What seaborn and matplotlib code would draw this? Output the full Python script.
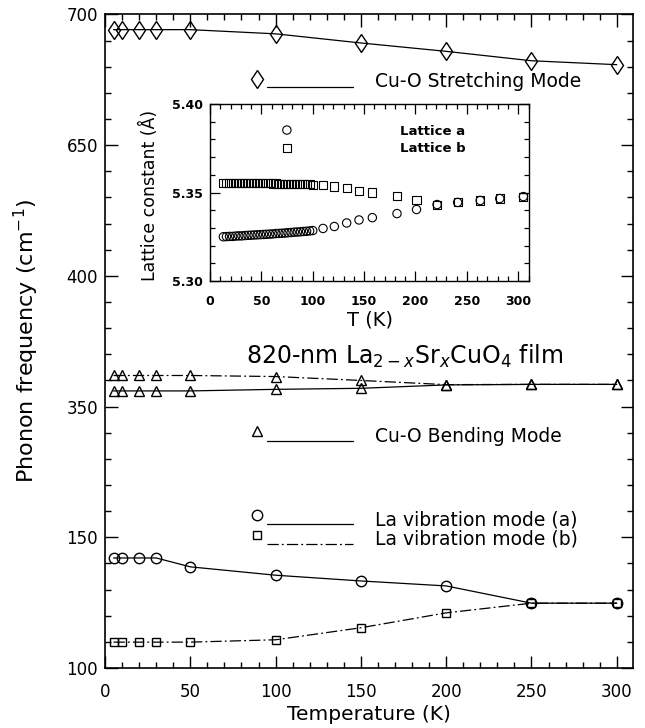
import numpy as np
import matplotlib
matplotlib.use("Agg")
import matplotlib.pyplot as plt
from matplotlib.ticker import FixedLocator, MultipleLocator, FormatStrFormatter
import seaborn as sns

# ---- phonon frequencies vs temperature (cm^-1) ----
temperature = [5, 10, 20, 30, 50, 100, 150, 200, 250, 300]
stretching = [694.2, 694.2, 694.2, 694.2, 694.2, 692.6, 689.1, 685.9, 682.3, 680.8]
bending_upper = [361.9, 361.9, 361.9, 361.9, 361.9, 361.5, 360.0, 358.4, 358.5, 358.5]
bending_lower = [356.0, 356.0, 356.0, 356.0, 356.0, 356.6, 357.0, 358.3, 358.5, 358.5]
la_mode_a = [142.1, 142.1, 142.1, 142.1, 138.7, 135.5, 133.3, 131.4, 124.8, 124.8]
la_mode_b = [109.9, 109.9, 109.9, 109.9, 109.9, 110.8, 115.4, 121.1, 124.8, 124.8]

# ---- lattice constants vs temperature (Angstrom) ----
lattice_T = [13, 16, 19, 22, 25, 28, 31, 34, 37, 40, 43, 46, 49, 52, 55,
             58, 61, 64, 67, 70, 73, 76, 79, 82, 85, 88, 91, 94, 97, 100,
             110, 121, 133, 145, 158, 182, 201, 221, 241, 263, 282, 305]
lattice_a = [5.3250, 5.3251, 5.3252, 5.3252, 5.3254, 5.3255, 5.3255, 5.3257,
             5.3258, 5.3259, 5.3260, 5.3261, 5.3262, 5.3263, 5.3264, 5.3265,
             5.3266, 5.3268, 5.3269, 5.3270, 5.3271, 5.3273, 5.3274, 5.3276,
             5.3277, 5.3278, 5.3280, 5.3281, 5.3283, 5.3285,
             5.3297, 5.3308, 5.3328, 5.3345, 5.3358, 5.3381, 5.3404,
             5.3432, 5.3444, 5.3455, 5.3466, 5.3477]
lattice_b = [5.3556, 5.3556, 5.3556, 5.3555, 5.3555, 5.3555, 5.3555, 5.3554,
             5.3554, 5.3554, 5.3553, 5.3553, 5.3553, 5.3552, 5.3552, 5.3552,
             5.3551, 5.3551, 5.3550, 5.3550, 5.3550, 5.3549, 5.3549, 5.3548,
             5.3548, 5.3547, 5.3547, 5.3546, 5.3546, 5.3545,
             5.3540, 5.3534, 5.3523, 5.3511, 5.3500, 5.3478, 5.3459,
             5.3432, 5.3444, 5.3455, 5.3466, 5.3477]

# broken frequency axis: each labelled value sits one equal step apart
y_breaks = [100, 150, 350, 400, 650, 700]
x_major = [0, 50, 100, 150, 200, 250, 300]

sns.set_style("ticks")
plt.rcParams["font.family"] = ["DejaVu Sans"]
plt.rcParams["axes.linewidth"] = 1.2
plt.rcParams["text.color"] = "black"
plt.rcParams["axes.labelcolor"] = "black"
plt.rcParams["xtick.color"] = "black"
plt.rcParams["ytick.color"] = "black"
plt.rcParams["axes.edgecolor"] = "black"

slots = np.arange(len(y_breaks), dtype=float)


def to_slot(v):
    return np.interp(v, y_breaks, slots)


def from_slot(s):
    return np.interp(s, slots, y_breaks)


fig = plt.figure(figsize=(6.45, 7.28), dpi=100)
ax = fig.add_axes([0.1628, 0.0824, 0.8186, 0.8977])
ax.set_yscale("function", functions=(to_slot, from_slot))

dash_dot = (0, (9, 2.5, 1.5, 2.5))
line_kw = dict(color="black", linewidth=0.9, markerfacecolor="none",
               markeredgecolor="black", markeredgewidth=1.0,
               legend=False, estimator=None, ax=ax)

sns.lineplot(x=temperature, y=stretching, marker="d", markersize=9.5,
             linestyle="-", **line_kw)
sns.lineplot(x=temperature, y=bending_upper, marker="^", markersize=6.8,
             linestyle=dash_dot, **line_kw)
sns.lineplot(x=temperature, y=bending_lower, marker="^", markersize=6.8,
             linestyle="-", **line_kw)
sns.lineplot(x=temperature, y=la_mode_a, marker="o", markersize=7.5,
             linestyle="-", **line_kw)
sns.lineplot(x=temperature, y=la_mode_b, marker="s", markersize=6.2,
             linestyle=dash_dot, **line_kw)

ax.set_xlim(0, 309.5)
ax.set_ylim(100, 700)
ax.set_yticks(y_breaks)
ax.yaxis.set_minor_locator(FixedLocator(from_slot(np.arange(0, 5.01, 0.2))))
ax.set_xticks(x_major)
ax.xaxis.set_minor_locator(MultipleLocator(10))
ax.tick_params(which="both", direction="in", top=True, right=True,
               width=1.0, colors="black")
ax.tick_params(which="major", length=9, labelsize=12)
ax.tick_params(which="minor", length=4.5)
ax.tick_params(axis="x", which="major", pad=11)
ax.tick_params(axis="y", which="major", pad=5)
for sp in ax.spines.values():
    sp.set_color("black")

ax.set_xlabel("Temperature (K)", fontsize=14.5, color="black")
ax.xaxis.set_label_coords(0.5, -0.056)
ax.set_ylabel("Phonon frequency (cm$^{-1}$)", fontsize=16, color="black")
ax.yaxis.set_label_coords(-0.122, 0.5)

# legend entries: symbol, short line, description
tr = ax.transAxes
legend_rows = [
    ("d", 9.5, "-", 0.902, 0.889, 0.897, "Cu-O Stretching Mode"),
    ("^", 6.8, "-", 0.3625, 0.347, 0.355, "Cu-O Bending Mode"),
    ("o", 7.5, "-", 0.2335, 0.221, 0.227, "La vibration mode (a)"),
    ("s", 6.2, dash_dot, 0.203, 0.190, 0.197, "La vibration mode (b)"),
]
for mk, ms, ls, ym, yl, yt, label in legend_rows:
    ax.plot([0.287], [ym], marker=mk, markersize=ms, markerfacecolor="none",
            markeredgecolor="black", markeredgewidth=1.0, transform=tr,
            clip_on=False, linestyle="none")
    ax.plot([0.306, 0.469], [yl, yl], color="black", linewidth=0.9,
            linestyle=ls, transform=tr)
    ax.text(0.512, yt, label, transform=tr, fontsize=13.5, va="center",
            ha="left", color="black")

ax.text(0.267, 0.477, "820-nm La$_{2-x}$Sr$_x$CuO$_4$ film", transform=tr,
        fontsize=17, va="center", ha="left", color="black")

# ---- inset: lattice constants ----
ins = fig.add_axes([0.3256, 0.614, 0.4946, 0.2431])
sns.scatterplot(x=lattice_T, y=lattice_a, marker="o", s=36,
                facecolor="none", edgecolor="black", linewidth=0.8, ax=ins,
                legend=False)
sns.scatterplot(x=lattice_T, y=lattice_b, marker="s", s=34,
                facecolor="none", edgecolor="black", linewidth=0.8, ax=ins,
                legend=False)
ins.set_xlim(0, 310.5)
ins.set_ylim(5.30, 5.40)
ins.set_xticks(x_major)
ins.xaxis.set_minor_locator(MultipleLocator(10))
ins.set_yticks([5.30, 5.35, 5.40])
ins.yaxis.set_minor_locator(MultipleLocator(0.01))
ins.yaxis.set_major_formatter(FormatStrFormatter("%.2f"))
ins.tick_params(which="both", direction="in", top=True, right=True,
                width=0.9, colors="black")
ins.tick_params(which="major", length=7, labelsize=9)
ins.tick_params(which="minor", length=3.5)
ins.tick_params(axis="x", which="major", pad=10)
ins.tick_params(axis="y", which="major", pad=5)
for lab in ins.get_xticklabels() + ins.get_yticklabels():
    lab.set_fontweight("bold")
for sp in ins.spines.values():
    sp.set_color("black")
    sp.set_linewidth(1.0)
ins.set_xlabel("T (K)", fontsize=14, color="black")
ins.xaxis.set_label_coords(0.5, -0.164)
ins.set_ylabel("Lattice constant (Å)", fontsize=12.5, color="black")
ins.yaxis.set_label_coords(-0.16, 0.486)

itr = ins.transAxes
ins.scatter([0.241], [0.853], marker="o", s=36, facecolor="none",
            edgecolor="black", linewidth=0.8, transform=itr, clip_on=False)
ins.scatter([0.241], [0.751], marker="s", s=34, facecolor="none",
            edgecolor="black", linewidth=0.8, transform=itr, clip_on=False)
ins.text(0.596, 0.842, "Lattice a", transform=itr, fontsize=9.5,
         fontweight="bold", va="center", ha="left", color="black")
ins.text(0.596, 0.746, "Lattice b", transform=itr, fontsize=9.5,
         fontweight="bold", va="center", ha="left", color="black")

fig.savefig("out.png", dpi=100)
